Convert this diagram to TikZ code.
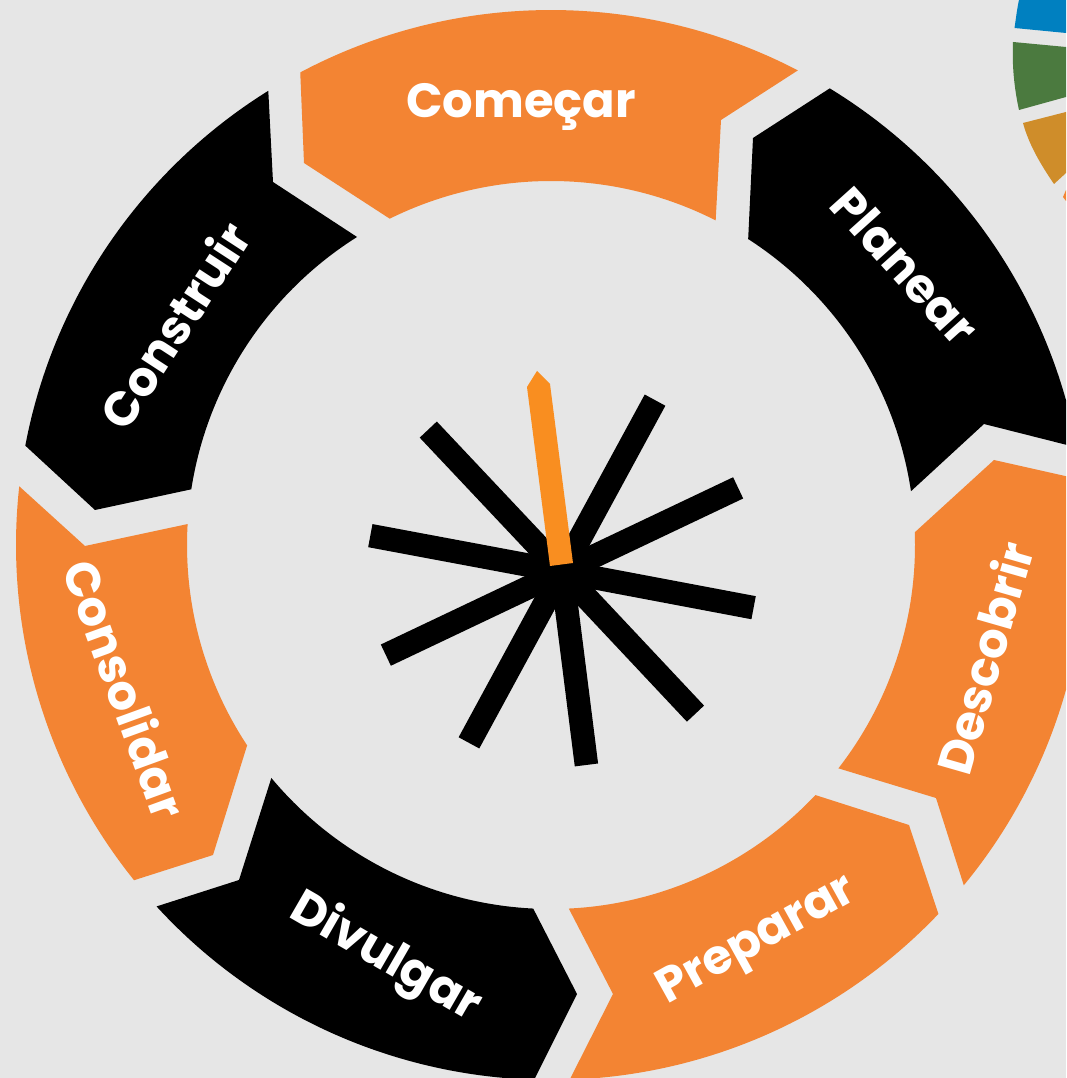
\documentclass[tikz,border=0pt]{standalone}
\usepackage{fontspec}
\setmainfont{Poppins}
\usetikzlibrary{calc,positioning}
\definecolor{bggray}{HTML}{E6E6E6}
\definecolor{segorange}{HTML}{F38433}
\definecolor{spokeorange}{HTML}{F98E20}
\definecolor{wheelblue}{HTML}{0080C0}
\definecolor{wheelgreen}{HTML}{4B7A3F}
\definecolor{wheelochre}{HTML}{CF8D2A}

\begin{document}
\begin{tikzpicture}[
x=1pt,y=1pt,
segment/.style={draw=none},
spoke/.style={draw=black, line width=23.5pt},
label/.style={text=white, font=\fontsize{48}{48}\selectfont\bfseries, inner sep=0pt},
wheel/.style={draw=none}]

%% local variables
\def \Rout {535}
\def \Rin {364}

\clip (-551,545) rectangle (515,-533);
\fill[bggray] (-551,545) rectangle (515,-533);

%% corner of the other wheel
\fill[wheel,wheelblue] (463.5,517) .. controls (465,527) and (466,536) .. (468,545) -- (515,545) -- (515,512) -- cycle;
\fill[wheel,wheelgreen] (462,503) .. controls (461,480) and (463,458) .. (468,435) -- (515,448) -- (515,498) -- cycle;
\fill[wheel,wheelochre] (472,422) .. controls (478,400) and (490,380) .. (503,361) -- (515,372) -- (515,433) -- cycle;
\fill[wheel,segorange] (512,348) -- (515,355) -- (515,344) -- cycle;

%% place all segments
\foreach \c/\a/\b/\nx/\ny/\d/\e/\mx/\my in {
  segorange/117.95/62.52/170/425/63.1/116.3/-247/382,
  black/58.6/10.5/433/121/8.5/57.2/202/407,
  segorange/7/-39.5/385/-253/-37.85/2/443/85,
  segorange/-43.6/-88/62/-449/-87.2/-43.4/358/-280,
  black/-91.8/-137.5/-312/-335/-140.2/-92.8/26/-449,
  segorange/-141.2/-186.3/-466/-1/-183.3/-146.6/-338/-310,
  black/169.3/121.9/-278/363/122.2/171.2/-456/35}
      \fill[segment,\c] (\a:\Rout) arc[start angle=\a, end angle=\b, radius=\Rout]
          -- (\nx,\ny) -- (\d:\Rin) arc[start angle=\d, end angle=\e, radius=\Rin]
          -- (\mx,\my) -- cycle;

%% place all spokes
\coordinate (hub) at (11,-26.5);
\foreach \s in {169.4,-10.7,133.3,-46.8,61.5,-118.5,25.4,205.4,-82.8}
      \draw[spoke] (hub) -- ++(\s:195);
\fill[spokeorange] (-24,158) -- (-14,174) -- (-1,161) -- (22,-18) -- (-1,-21) -- cycle;

%% place all labels
\node[label] (comecar) at (-30,438) {Começar};
\node[label,rotate=-48] (planear) at (354,279) {Planear};
\node[label,rotate=74] (descobrir) at (433,-113) {Descobrir};
\node[label,rotate=29] (preparar) at (207,-397) {Preparar};
\node[label,rotate=-30] (divulgar) at (-166,-413) {Divulgar};
\node[label,rotate=-70] (consolidar) at (-425,-144) {Consolidar};
\node[label,rotate=57] (construir) at (-377,220) {Construir};

\end{tikzpicture}
\end{document}
